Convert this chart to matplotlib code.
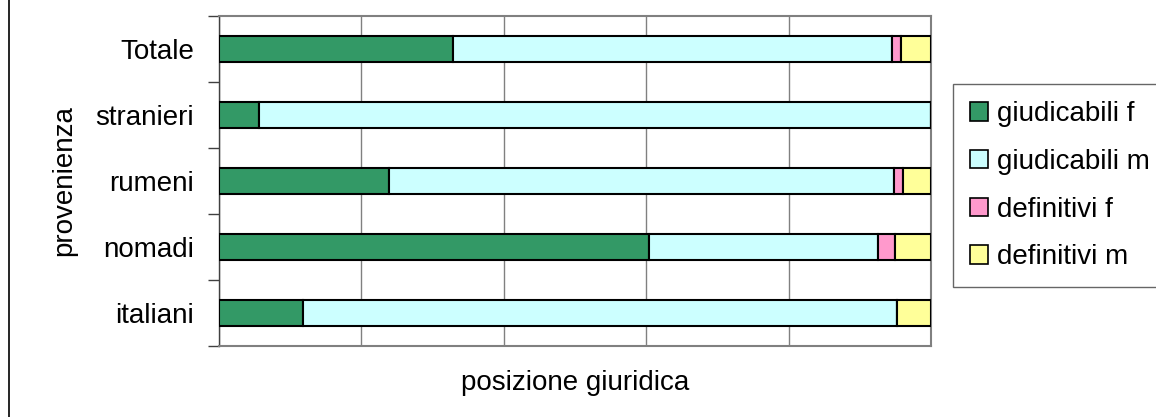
import numpy as np
import matplotlib.pyplot as plt
from matplotlib.lines import Line2D

categorie = ["italiani", "nomadi", "rumeni", "stranieri", "Totale"]
serie = ["giudicabili f", "giudicabili m", "definitivi f", "definitivi m"]
colori = ["#339966", "#CCFFFF", "#FF99CC", "#FFFF99"]

giudicabili_f = [11.8, 60.4, 23.9, 5.6, 32.9]
giudicabili_m = [83.4, 32.2, 70.9, 94.4, 61.6]
definitivi_f = [0.0, 2.4, 1.3, 0.0, 1.3]
definitivi_m = [4.8, 5.0, 3.9, 0.0, 4.2]

plt.rcParams["font.family"] = ["Liberation Sans", "DejaVu Sans"]

fig = plt.figure(figsize=(11.56, 4.17), dpi=100)
ax = fig.add_axes([219 / 1156, 1 - 346 / 417, 712 / 1156, 330 / 417])

y = np.arange(len(categorie))
left = np.zeros(len(categorie))
for nome, vals, col in zip(serie, [giudicabili_f, giudicabili_m, definitivi_f, definitivi_m], colori):
    vals = np.array(vals)
    ax.barh(y, vals, left=left, height=0.4, color=col, edgecolor="black",
            linewidth=1.5, label=nome, zorder=3)
    left += vals

ax.set_xlim(0, 100)
ax.set_ylim(-0.5, len(categorie) - 0.5)
ax.set_xticks([0, 20, 40, 60, 80, 100])
ax.set_xticklabels([])
ax.tick_params(axis="x", length=0)
ax.grid(axis="x", color="#808080", linewidth=1, zorder=0)

ax.set_yticks(y)
ax.set_yticklabels(categorie, fontsize=20)
ax.set_yticks(np.arange(-0.5, len(categorie)), minor=True)
ax.tick_params(axis="y", which="major", length=0, pad=18)
ax.tick_params(axis="y", which="minor", length=8, width=1, color="#404040")

for s in ["top", "right", "bottom"]:
    ax.spines[s].set_color("#808080")
    ax.spines[s].set_linewidth(1.5)
ax.spines["left"].set_color("#404040")
ax.spines["left"].set_linewidth(1)

ax.set_xlabel("posizione giuridica", fontsize=20, labelpad=14)
ax.set_ylabel("provenienza", fontsize=20, labelpad=13)

leg = fig.legend(loc="upper left", bbox_to_anchor=(953 / 1156, 1 - 84 / 417),
                 fontsize=20, frameon=True, fancybox=False, edgecolor="#404040",
                 handlelength=0.65, handleheight=0.65, handletextpad=0.3,
                 labelspacing=0.78, borderpad=0.62, borderaxespad=0)
leg.get_frame().set_linewidth(1)
for h in leg.legend_handles:
    h.set_linewidth(1.2)

fig.add_artist(Line2D([9 / 1156, 9 / 1156], [0, 1], color="black", linewidth=1.2))

fig.savefig("out.png", dpi=100)
